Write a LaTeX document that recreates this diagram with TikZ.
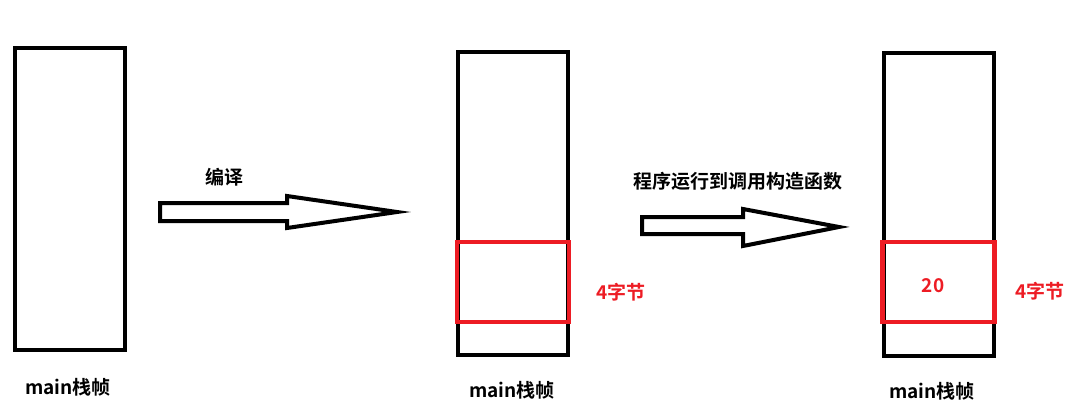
\documentclass[tikz,border=0pt]{standalone}
\usepackage{fontspec}
\newfontfamily\cjk{Noto Sans CJK SC}[BoldFont={* Bold}]
\definecolor{myred}{RGB}{237,28,36}
\tikzset{
  frame/.style={draw=black,line width=4pt,minimum width=110pt,minimum height=302pt,inner sep=0pt},
  slot/.style={draw=myred,line width=4.5pt,minimum width=112pt,minimum height=80pt,inner sep=0pt},
  lbl/.style={font=\cjk\bfseries\fontsize{19}{22}\selectfont,inner sep=0pt},
  redlbl/.style={lbl,text=myred},
  blockarrow/.style={draw=black,line width=4pt,line join=miter,fill=white}
}
\begin{document}
\begin{tikzpicture}[x=1pt,y=-1pt]
\useasboundingbox (0,0) rectangle (1076,412);
% frames
\node[frame] (f1) at (70,199) {};
\node[frame] (f2) at (512.5,203.5) {};
\node[frame] (f3) at (938.5,204.5) {};
% red slots
\node[slot] (s2) at (513,282) {};
\node[slot] (s3) at (938.5,282) {};
\node[redlbl] (v3) at (933,286) {20};
% labels
\node[lbl] (l1) at (68,387) {main栈帧};
\node[lbl] (l2) at (512,390) {main栈帧};
\node[lbl] (l3) at (932,391) {main栈帧};
\node[redlbl] (b2) at (621,292) {4字节};
\node[redlbl] (b3) at (1040,291) {4字节};
\node[lbl] (t1) at (224,177) {编译};
\node[lbl] (t2) at (738,181) {程序运行到调用构造函数};
% block arrows
\draw[blockarrow] (160,203) -- (287,203) -- (287,196) -- (397,212) -- (287,228) -- (287,221) -- (160,221) -- cycle;
\draw[blockarrow] (642,217) -- (743,217) -- (743,209) -- (839,227) -- (743,246) -- (743,234) -- (642,234) -- cycle;
\end{tikzpicture}
\end{document}
